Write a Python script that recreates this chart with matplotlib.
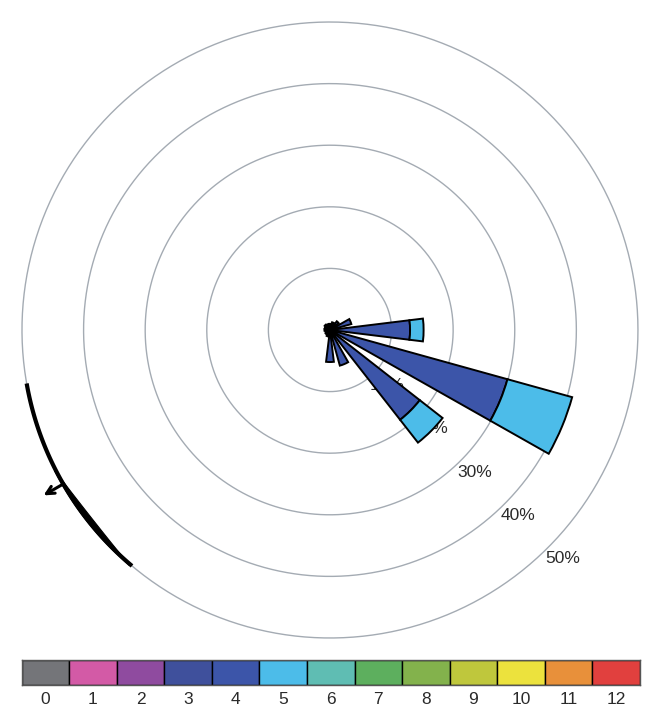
import matplotlib
matplotlib.use("Agg")
import matplotlib.pyplot as plt
import numpy as np

plt.rcParams['font.family'] = ['Liberation Sans', 'DejaVu Sans']

# 16 compass sectors, clockwise from north
directions = ['N', 'NNE', 'NE', 'ENE', 'E', 'ESE', 'SE', 'SSE',
              'S', 'SSW', 'SW', 'WSW', 'W', 'WNW', 'NW', 'NNW']
# frequency (%) per sector for each Beaufort force present
freq_f4 = [1.0, 1.3, 1.8, 3.6, 13.0, 29.9, 18.5, 6.0,
           5.2, 1.1, 0.9, 0.8, 0.9, 0.9, 1.1, 1.0]
freq_f5 = [0, 0, 0, 0, 2.2, 10.9, 4.7, 0,
           0, 0, 0, 0, 0, 0, 0, 0]

# colour scale, Beaufort 0..12
force_labels = [str(i) for i in range(13)]
force_colors = ['#747579', '#d35aa6', '#8f4b9f', '#3f509c', '#3c55a9',
                '#4cbce9', '#5fbdb3', '#5daf5e', '#83b24c', '#bfc73c',
                '#ece23d', '#e8903a', '#e1403e']

ring_values = [10, 20, 30, 40, 50]
ring_color = '#a4abb3'

# mean direction arc and arrow (compass degrees)
arc_start, arc_end, arrow_dir = 220, 260, 240

fig = plt.figure(figsize=(6.6, 7.24), dpi=100)
ax = fig.add_axes([0.0333, 0.1188, 0.9333, 0.8508], projection='polar')
ax.set_theta_zero_location('N')
ax.set_theta_direction(-1)

theta = np.deg2rad(np.arange(len(directions)) * 22.5)
width = np.deg2rad(14)
bottom = np.zeros(len(directions))
for vals, col in [(freq_f4, force_colors[4]), (freq_f5, force_colors[5])]:
    vals = np.array(vals, dtype=float)
    m = vals > 0
    ax.bar(theta[m], vals[m], width=width, bottom=bottom[m], color=col,
           edgecolor='black', linewidth=1.4, zorder=3)
    bottom += vals

ax.set_ylim(0, 50)
ax.set_xticks([])
ax.set_yticks([])
ax.grid(False)
ax.spines['polar'].set_visible(False)

# rings and their labels (seam placed under the ESE bar)
circ = np.deg2rad(112.5) + np.linspace(0, 2 * np.pi, 400)
for r in ring_values:
    ax.plot(circ, np.full(circ.size, r), color=ring_color, lw=1.0,
            zorder=0.5, clip_on=False, solid_capstyle='butt')
    ax.text(np.deg2rad(134.5), r + 2.9, f'{r}%', ha='center', va='center',
            fontsize=12.5, color='#2a2a2a', zorder=1, clip_on=False)

# direction arc on the outer ring
th = np.deg2rad(np.linspace(arc_start, arc_end, 120))
ax.plot(th, np.full(th.size, 50), color='black', lw=3, clip_on=False,
        zorder=4, solid_capstyle='butt')
th2 = np.linspace(arc_start + 0.5, arrow_dir + 3, 80)
t = 0.9 * np.sin(np.pi * (th2 - th2[0]) / (th2[-1] - th2[0])) ** 0.8
ax.fill(np.deg2rad(np.concatenate([th2, th2[::-1]])),
        np.concatenate([np.full(th2.size, 50.2), (50.2 - t)[::-1]]),
        color='black', lw=0.8, clip_on=False, zorder=4)
ax.annotate('', xy=(np.deg2rad(arrow_dir), 53.7),
            xytext=(np.deg2rad(arrow_dir), 50),
            arrowprops=dict(arrowstyle='->', lw=2.2, color='black',
                            mutation_scale=14, shrinkA=0, shrinkB=0),
            annotation_clip=False, zorder=5)

# colour scale
cax = fig.add_axes([0.0326, 0.0539, 0.937, 0.0345])
cax.bar(np.arange(13), np.ones(13), width=1, color=force_colors,
        edgecolor='black', linewidth=1.0)
cax.set_xlim(-0.5, 12.5)
cax.set_ylim(0, 1)
cax.set_yticks([])
cax.set_xticks(np.arange(13))
cax.set_xticklabels(force_labels, fontsize=12.5, color='#2a2a2a')
cax.tick_params(axis='x', length=0, pad=5)
for s in cax.spines.values():
    s.set_color('#555555')
    s.set_linewidth(1.0)

plt.savefig('out.png', dpi=100)
plt.close()
